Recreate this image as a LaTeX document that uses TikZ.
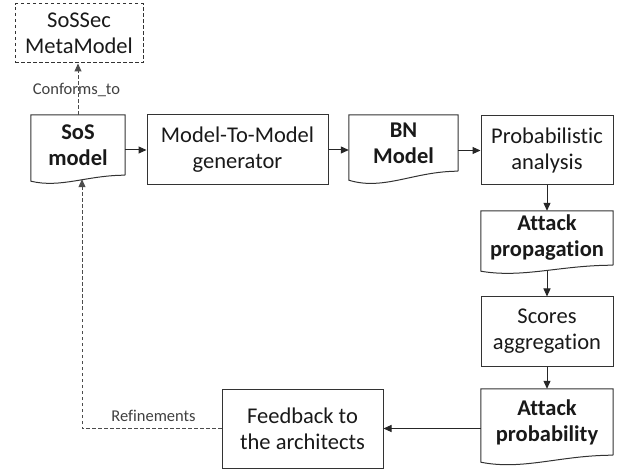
\documentclass[tikz,border=0pt]{standalone}
\usepackage{fontspec}
\setmainfont{Carlito}[Ligatures={NoCommon}]
\usetikzlibrary{arrows.meta,calc}
\newcommand\docoutline[3]{%
  \draw[boxline] (#1.south east) -- (#1.north east) -- (#1.north west) -- ($(#1.south west)+(0,#3)$)
    .. controls ($(#1.south west)+(0.32*#2,2.2*#3)$) and ($(#1.south west)+(0.6*#2,0)$) .. (#1.south east);}
\begin{document}
\begin{tikzpicture}[x=1pt,y=-1pt,
  boxline/.style={draw=black!80,line width=1pt},
  procbox/.style={boxline,rectangle,inner sep=0pt,align=center,font=\fontsize{22.5}{26}\selectfont,text=black!90},
  docbox/.style={rectangle,inner sep=0pt,align=center,font=\fontsize{22.5}{26}\selectfont\bfseries,text=black!90},
  flow/.style={draw=black!85,line width=1pt,-{Triangle[length=8pt,width=7pt]}},
  dflow/.style={flow,draw=black!70,dash pattern=on 3.5pt off 2.5pt},
  lbl/.style={font=\fontsize{16.5}{19}\selectfont,text=black!75,inner sep=0pt}]
\useasboundingbox (0,0) rectangle (621,470);
% nodes
\node[procbox,dash pattern=on 3.5pt off 2.5pt,minimum width=128pt,minimum height=59pt] (meta) at (79,33.5) {SoSSec\\MetaModel};
\node[docbox,minimum width=94pt,minimum height=60pt] (sos) at (78,145) {SoS\\model};
\node[procbox,minimum width=181pt,minimum height=70pt] (m2m) at (237.5,150) {Model-To-Model\\generator};
\node[docbox,minimum width=109pt,minimum height=56pt] (bn) at (403.5,143) {BN\\Model};
\node[procbox,minimum width=132pt,minimum height=69pt] (prob) at (547,150.5) {Probabilistic\\analysis};
\node[docbox,minimum width=132pt,minimum height=54pt] (ap) at (547,238) {Attack\\propagation};
\node[procbox,minimum width=132pt,minimum height=69pt] (sc) at (547,331.5) {Scores\\aggregation};
\node[docbox,minimum width=132pt,minimum height=66pt] (apb) at (547,422) {Attack\\probability};
\node[procbox,minimum width=161pt,minimum height=79pt] (fb) at (302.5,428.5) {Feedback to\\the architects};
% document outlines
\docoutline{sos}{94}{6}
\docoutline{bn}{109}{9}
\docoutline{ap}{132}{6}
\docoutline{apb}{132}{7}
% helper coordinates
\coordinate (apout) at ($(ap.south)+(0,6)$);
\coordinate (sosin) at ($(sos.south)+(4,4)$);
% connectors
\draw[flow] (sos.east |- m2m.west) -- (m2m.west);
\draw[flow] (m2m.east) -- (m2m.east -| bn.west);
\draw[flow] (bn.east |- prob.west) -- (prob.west);
\draw[flow] (prob.south) -- (ap.north);
\draw[flow] (apout) -- (sc.north);
\draw[flow] (sc.south) -- (apb.north);
\draw[flow] (apb.west |- fb.east) -- (fb.east);
\draw[dflow] (sos.north) -- (sos.north |- meta.south);
\draw[dflow] (fb.west) -| (sosin);
% labels
\node[lbl] (conf) at (76.5,90) {Conforms\_to};
\node[lbl] (ref) at (153.5,416) {Refinements};
\end{tikzpicture}
\end{document}
